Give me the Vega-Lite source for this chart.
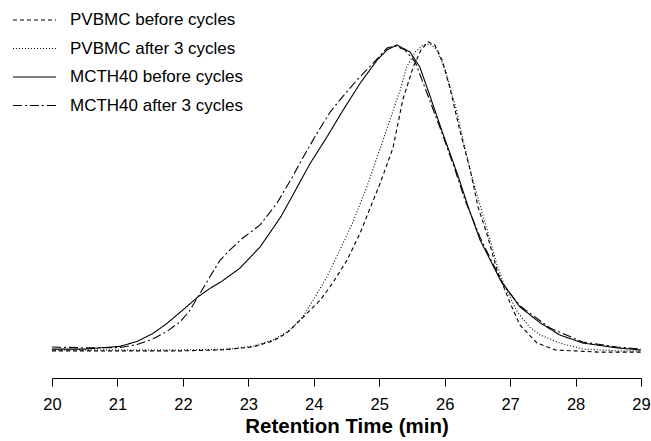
{
"$schema": "https://vega.github.io/schema/vega-lite/v6.json",
"width": 589, "height": 373,
"autosize": {"type": "none"},
"padding": {"left": 52, "top": 5, "right": 10, "bottom": 63},
"config": {"view": {"stroke": null}, "font": "Liberation Sans"},
"datasets": {
"curves": [
{"series":"MCTH40 before cycles","t":20.00,"v":0.3},
{"series":"MCTH40 before cycles","t":20.50,"v":0.3},
{"series":"MCTH40 before cycles","t":21.04,"v":1.2},
{"series":"MCTH40 before cycles","t":21.30,"v":2.8},
{"series":"MCTH40 before cycles","t":21.54,"v":5.4},
{"series":"MCTH40 before cycles","t":21.75,"v":8.6},
{"series":"MCTH40 before cycles","t":21.96,"v":12.4},
{"series":"MCTH40 before cycles","t":22.23,"v":17.4},
{"series":"MCTH40 before cycles","t":22.40,"v":20.0},
{"series":"MCTH40 before cycles","t":22.60,"v":22.6},
{"series":"MCTH40 before cycles","t":22.87,"v":26.8},
{"series":"MCTH40 before cycles","t":23.18,"v":33.8},
{"series":"MCTH40 before cycles","t":23.38,"v":40.0},
{"series":"MCTH40 before cycles","t":23.50,"v":43.8},
{"series":"MCTH40 before cycles","t":23.68,"v":50.8},
{"series":"MCTH40 before cycles","t":23.94,"v":61.0},
{"series":"MCTH40 before cycles","t":24.20,"v":69.8},
{"series":"MCTH40 before cycles","t":24.45,"v":78.7},
{"series":"MCTH40 before cycles","t":24.71,"v":87.5},
{"series":"MCTH40 before cycles","t":24.97,"v":95.1},
{"series":"MCTH40 before cycles","t":25.12,"v":98.4},
{"series":"MCTH40 before cycles","t":25.27,"v":100.0},
{"series":"MCTH40 before cycles","t":25.47,"v":97.7},
{"series":"MCTH40 before cycles","t":25.62,"v":92.8},
{"series":"MCTH40 before cycles","t":25.78,"v":83.0},
{"series":"MCTH40 before cycles","t":25.97,"v":71.1},
{"series":"MCTH40 before cycles","t":26.19,"v":58.0},
{"series":"MCTH40 before cycles","t":26.36,"v":46.9},
{"series":"MCTH40 before cycles","t":26.54,"v":36.1},
{"series":"MCTH40 before cycles","t":26.85,"v":23.0},
{"series":"MCTH40 before cycles","t":27.15,"v":14.1},
{"series":"MCTH40 before cycles","t":27.46,"v":8.9},
{"series":"MCTH40 before cycles","t":27.76,"v":4.9},
{"series":"MCTH40 before cycles","t":28.11,"v":2.3},
{"series":"MCTH40 before cycles","t":28.63,"v":0.7},
{"series":"MCTH40 before cycles","t":29.00,"v":0.0},
{"series":"MCTH40 after 3 cycles","t":20.00,"v":1.0},
{"series":"MCTH40 after 3 cycles","t":20.50,"v":0.7},
{"series":"MCTH40 after 3 cycles","t":21.04,"v":0.8},
{"series":"MCTH40 after 3 cycles","t":21.30,"v":1.8},
{"series":"MCTH40 after 3 cycles","t":21.54,"v":3.6},
{"series":"MCTH40 after 3 cycles","t":21.75,"v":6.0},
{"series":"MCTH40 after 3 cycles","t":21.96,"v":9.3},
{"series":"MCTH40 after 3 cycles","t":22.10,"v":12.8},
{"series":"MCTH40 after 3 cycles","t":22.23,"v":17.4},
{"series":"MCTH40 after 3 cycles","t":22.41,"v":23.9},
{"series":"MCTH40 after 3 cycles","t":22.57,"v":29.5},
{"series":"MCTH40 after 3 cycles","t":22.72,"v":32.8},
{"series":"MCTH40 after 3 cycles","t":22.92,"v":36.8},
{"series":"MCTH40 after 3 cycles","t":23.18,"v":41.0},
{"series":"MCTH40 after 3 cycles","t":23.44,"v":48.2},
{"series":"MCTH40 after 3 cycles","t":23.68,"v":57.0},
{"series":"MCTH40 after 3 cycles","t":23.84,"v":63.3},
{"series":"MCTH40 after 3 cycles","t":24.05,"v":71.1},
{"series":"MCTH40 after 3 cycles","t":24.25,"v":78.0},
{"series":"MCTH40 after 3 cycles","t":24.40,"v":82.0},
{"series":"MCTH40 after 3 cycles","t":24.66,"v":88.5},
{"series":"MCTH40 after 3 cycles","t":24.91,"v":94.1},
{"series":"MCTH40 after 3 cycles","t":25.12,"v":99.0},
{"series":"MCTH40 after 3 cycles","t":25.24,"v":99.7},
{"series":"MCTH40 after 3 cycles","t":25.39,"v":98.4},
{"series":"MCTH40 after 3 cycles","t":25.55,"v":94.4},
{"series":"MCTH40 after 3 cycles","t":25.70,"v":85.9},
{"series":"MCTH40 after 3 cycles","t":25.93,"v":72.8},
{"series":"MCTH40 after 3 cycles","t":26.16,"v":59.0},
{"series":"MCTH40 after 3 cycles","t":26.31,"v":49.2},
{"series":"MCTH40 after 3 cycles","t":26.54,"v":37.0},
{"series":"MCTH40 after 3 cycles","t":26.89,"v":21.5},
{"series":"MCTH40 after 3 cycles","t":27.15,"v":14.5},
{"series":"MCTH40 after 3 cycles","t":27.61,"v":7.2},
{"series":"MCTH40 after 3 cycles","t":28.11,"v":2.6},
{"series":"MCTH40 after 3 cycles","t":28.63,"v":1.0},
{"series":"MCTH40 after 3 cycles","t":29.00,"v":0.3},
{"series":"PVBMC before cycles","t":20.00,"v":-0.3},
{"series":"PVBMC before cycles","t":21.04,"v":-0.3},
{"series":"PVBMC before cycles","t":21.96,"v":-0.3},
{"series":"PVBMC before cycles","t":22.57,"v":0.0},
{"series":"PVBMC before cycles","t":23.07,"v":1.0},
{"series":"PVBMC before cycles","t":23.38,"v":3.0},
{"series":"PVBMC before cycles","t":23.59,"v":5.6},
{"series":"PVBMC before cycles","t":23.84,"v":10.8},
{"series":"PVBMC before cycles","t":24.10,"v":16.4},
{"series":"PVBMC before cycles","t":24.29,"v":22.0},
{"series":"PVBMC before cycles","t":24.51,"v":29.5},
{"series":"PVBMC before cycles","t":24.71,"v":38.4},
{"series":"PVBMC before cycles","t":24.86,"v":46.5},
{"series":"PVBMC before cycles","t":25.01,"v":54.4},
{"series":"PVBMC before cycles","t":25.21,"v":66.2},
{"series":"PVBMC before cycles","t":25.36,"v":82.0},
{"series":"PVBMC before cycles","t":25.52,"v":92.8},
{"series":"PVBMC before cycles","t":25.64,"v":98.4},
{"series":"PVBMC before cycles","t":25.75,"v":101.0},
{"series":"PVBMC before cycles","t":25.85,"v":100.0},
{"series":"PVBMC before cycles","t":25.96,"v":95.1},
{"series":"PVBMC before cycles","t":26.08,"v":85.9},
{"series":"PVBMC before cycles","t":26.23,"v":72.1},
{"series":"PVBMC before cycles","t":26.39,"v":59.0},
{"series":"PVBMC before cycles","t":26.51,"v":46.9},
{"series":"PVBMC before cycles","t":26.65,"v":37.7},
{"series":"PVBMC before cycles","t":26.80,"v":26.2},
{"series":"PVBMC before cycles","t":27.00,"v":15.4},
{"series":"PVBMC before cycles","t":27.15,"v":8.2},
{"series":"PVBMC before cycles","t":27.41,"v":2.3},
{"series":"PVBMC before cycles","t":27.69,"v":0.0},
{"series":"PVBMC before cycles","t":28.37,"v":-0.7},
{"series":"PVBMC before cycles","t":29.00,"v":-0.7},
{"series":"PVBMC after 3 cycles","t":20.00,"v":0.0},
{"series":"PVBMC after 3 cycles","t":21.96,"v":0.0},
{"series":"PVBMC after 3 cycles","t":22.72,"v":0.3},
{"series":"PVBMC after 3 cycles","t":23.07,"v":1.3},
{"series":"PVBMC after 3 cycles","t":23.38,"v":3.3},
{"series":"PVBMC after 3 cycles","t":23.64,"v":6.6},
{"series":"PVBMC after 3 cycles","t":23.84,"v":11.1},
{"series":"PVBMC after 3 cycles","t":24.02,"v":17.4},
{"series":"PVBMC after 3 cycles","t":24.20,"v":23.9},
{"series":"PVBMC after 3 cycles","t":24.45,"v":35.1},
{"series":"PVBMC after 3 cycles","t":24.60,"v":42.0},
{"series":"PVBMC after 3 cycles","t":24.81,"v":53.4},
{"series":"PVBMC after 3 cycles","t":25.06,"v":68.9},
{"series":"PVBMC after 3 cycles","t":25.32,"v":85.2},
{"series":"PVBMC after 3 cycles","t":25.42,"v":92.8},
{"series":"PVBMC after 3 cycles","t":25.55,"v":97.7},
{"series":"PVBMC after 3 cycles","t":25.67,"v":100.0},
{"series":"PVBMC after 3 cycles","t":25.78,"v":100.3},
{"series":"PVBMC after 3 cycles","t":25.88,"v":98.4},
{"series":"PVBMC after 3 cycles","t":26.01,"v":91.8},
{"series":"PVBMC after 3 cycles","t":26.16,"v":80.3},
{"series":"PVBMC after 3 cycles","t":26.31,"v":66.2},
{"series":"PVBMC after 3 cycles","t":26.43,"v":55.7},
{"series":"PVBMC after 3 cycles","t":26.65,"v":39.3},
{"series":"PVBMC after 3 cycles","t":26.80,"v":27.9},
{"series":"PVBMC after 3 cycles","t":26.92,"v":20.7},
{"series":"PVBMC after 3 cycles","t":27.11,"v":12.5},
{"series":"PVBMC after 3 cycles","t":27.30,"v":7.5},
{"series":"PVBMC after 3 cycles","t":27.46,"v":4.9},
{"series":"PVBMC after 3 cycles","t":27.76,"v":2.3},
{"series":"PVBMC after 3 cycles","t":28.11,"v":0.3},
{"series":"PVBMC after 3 cycles","t":28.68,"v":-0.3},
{"series":"PVBMC after 3 cycles","t":29.00,"v":-0.3}
]
},
"data": {"name": "curves"},
"mark": {"type": "line", "color": "black", "strokeWidth": 1.1},
"encoding": {
"x": {"field": "t", "type": "quantitative",
 "scale": {"domain": [20, 29], "nice": false, "zero": false},
 "axis": {"values": [20,20.5,21,21.5,22,22.5,23,23.5,24,24.5,25,25.5,26,26.5,27,27.5,28,28.5,29],
  "format": "d",
  "labelExpr": "datum.value % 1 === 0 ? datum.label : ''",
  "tickSize": {"condition": {"test": "datum.value % 1 !== 0", "value": 5}, "value": 8},
  "title": "Retention Time (min)", "titleFontSize": 20.5, "titleFontWeight": "bold", "titleColor": "black",
  "labelFontSize": 16.5, "labelColor": "black", "domainColor": "black", "tickColor": "black",
  "grid": false, "labelPadding": 10, "titlePadding": 4, "labelFlush": false, "labelOverlap": false}},
"y": {"field": "v", "type": "quantitative",
 "scale": {"domain": [-9.18, 113.1], "nice": false, "zero": false}, "axis": null},
"strokeDash": {"field": "series", "type": "nominal",
 "scale": {"domain": ["PVBMC before cycles", "PVBMC after 3 cycles", "MCTH40 before cycles", "MCTH40 after 3 cycles"],
  "range": [[4,3],[1,2],[1,0],[9,3,2,3]]},
 "legend": {"title": null, "orient": "none", "legendX": -26, "legendY": 6.5, "padding": 0,
  "symbolType": "M-4,0H4", "symbolSize": 116, "symbolStrokeWidth": 1.1, "symbolStrokeColor": "black",
  "labelFontSize": 17, "labelLimit": 400, "labelColor": "black", "labelFont": "Liberation Sans", "rowPadding": 10.5, "labelOffset": 27}}
}
}
